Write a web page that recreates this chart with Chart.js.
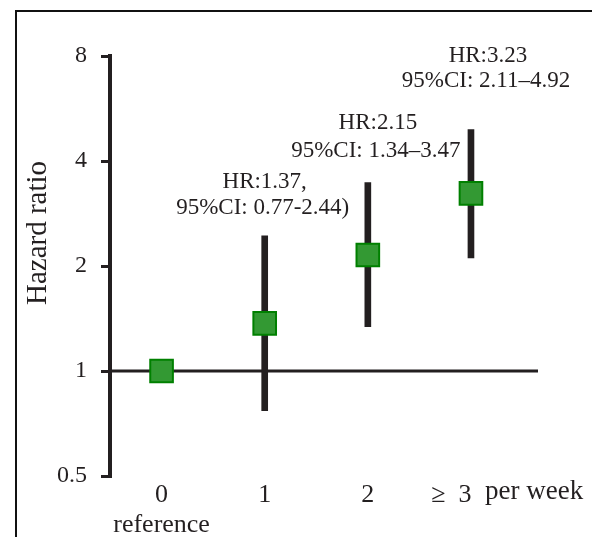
<!DOCTYPE html>
<html>
<head>
<meta charset="utf-8">
<script src="https://cdn.jsdelivr.net/npm/chart.js@4.4.1/dist/chart.umd.min.js"></script>
<style>
  body { margin: 0; background: #fff; }
  #wrap { position: relative; width: 592px; height: 537px; overflow: hidden; }
  #frame { position: absolute; left: 15px; top: 10px; right: -10px; bottom: -10px;
           border-left: 2px solid #111; border-top: 2px solid #111; }
  canvas { position: absolute; left: 0; top: 0; }
</style>
</head>
<body>
<div id="wrap">
  <div id="frame"></div>
  <canvas id="hrChart" width="592" height="537"></canvas>
</div>
<script>
// sessions per week and the hazard ratios with 95% CI
const categories = [["0", "reference"], "1", "2", "\u2265  3      "];
const hazardRatio = [1, 1.37, 2.15, 3.23];
const ciLower = [null, 0.77, 1.34, 2.11];
const ciUpper = [null, 2.44, 3.47, 4.92];
const yTicks = [0.5, 1, 2, 4, 8];
const notes = [
  null,
  ["HR:1.37,", "95%CI: 0.77-2.44)"],
  ["HR:2.15", "95%CI: 1.34\u20133.47"],
  ["HR:3.23", "95%CI: 2.11\u20134.92"]
];

const ink = '#231f20';
const serif = "'Liberation Serif', 'Times New Roman', serif";

// horizontal line at HR = 1
const refLine = {
  id: 'refLine',
  beforeDatasetsDraw(chart) {
    const { ctx, chartArea, scales } = chart;
    const y = scales.y.getPixelForValue(1);
    ctx.save();
    ctx.strokeStyle = ink;
    ctx.lineWidth = 3;
    ctx.beginPath();
    ctx.moveTo(chartArea.left, y);
    ctx.lineTo(chartArea.right, y);
    ctx.stroke();
    ctx.restore();
  }
};

// HR / CI text above each bar, the "per week" unit and the y title
const notesPlugin = {
  id: 'notes',
  afterDraw(chart) {
    const { ctx, scales } = chart;
    // [dx, CI line above bar top, gap to HR line]
    const offs = [null, [-2, -28, 26], [8, -32, 28], [15, -49, 25]];
    ctx.save();
    ctx.fillStyle = ink;
    ctx.font = "23px " + serif;
    ctx.textAlign = 'center';
    ctx.textBaseline = 'middle';
    notes.forEach((lines, i) => {
      if (!lines) return;
      const x = scales.x.getPixelForValue(i) + offs[i][0];
      const y = scales.y.getPixelForValue(ciUpper[i]) + offs[i][1];
      ctx.fillText(lines[0], x + 2, y - offs[i][2]);
      ctx.fillText(lines[1], x, y);
    });
    ctx.textAlign = 'left';
    ctx.font = "27px " + serif;
    ctx.fillText('per week', scales.x.getPixelForValue(3) + 14, 492);

    ctx.translate(38, 233);
    ctx.rotate(-Math.PI / 2);
    ctx.textAlign = 'center';
    ctx.font = "29px " + serif;
    ctx.fillText('Hazard ratio', 0, 0);
    ctx.restore();
  }
};

const ciBars = [];
ciLower.forEach((lo, i) => {
  if (lo !== null) ciBars.push({ x: i, y: [lo, ciUpper[i]] });
});

new Chart(document.getElementById('hrChart'), {
  data: {
    datasets: [
      {
        type: 'scatter',
        data: hazardRatio.map((v, i) => ({ x: i, y: v })),
        pointStyle: 'rect',
        pointRadius: 16,
        backgroundColor: '#339933',
        borderColor: '#008000',
        borderWidth: 2,
        order: 0
      },
      {
        type: 'bar',
        data: ciBars,
        backgroundColor: ink,
        barThickness: 6,
        order: 1
      }
    ]
  },
  options: {
    responsive: false,
    animation: false,
    layout: { padding: { left: 20, top: 56, right: 54, bottom: 0 } },
    plugins: { legend: { display: false }, tooltip: { enabled: false } },
    scales: {
      x: {
        type: 'linear',
        offset: false,
        min: -0.5,
        max: 3.65,
        afterBuildTicks: s => { s.ticks = categories.map((c, i) => ({ value: i })); },
        afterFit: s => { s.height = 61; },
        grid: { display: false, offset: false },
        border: { display: false },
        ticks: {
          callback: (v) => categories[v],
          color: ink,
          font: { family: serif, size: 26, lineHeight: 1.15 },
          padding: -4,
          maxRotation: 0,
          autoSkip: false
        }
      },
      y: {
        type: 'logarithmic',
        min: 0.5,
        max: 8,
        afterBuildTicks: s => { s.ticks = yTicks.map(v => ({ value: v })); },
        afterFit: s => { s.width = 90; },
        grid: { drawOnChartArea: false, drawTicks: true, tickLength: 9, color: ink, lineWidth: 3 },
        border: { display: true, color: ink, width: 4 },
        ticks: {
          callback: v => String(v),
          color: ink,
          font: { family: serif, size: 24 },
          padding: 14
        }
      }
    }
  },
  plugins: [refLine, notesPlugin]
});
</script>
</body>
</html>
